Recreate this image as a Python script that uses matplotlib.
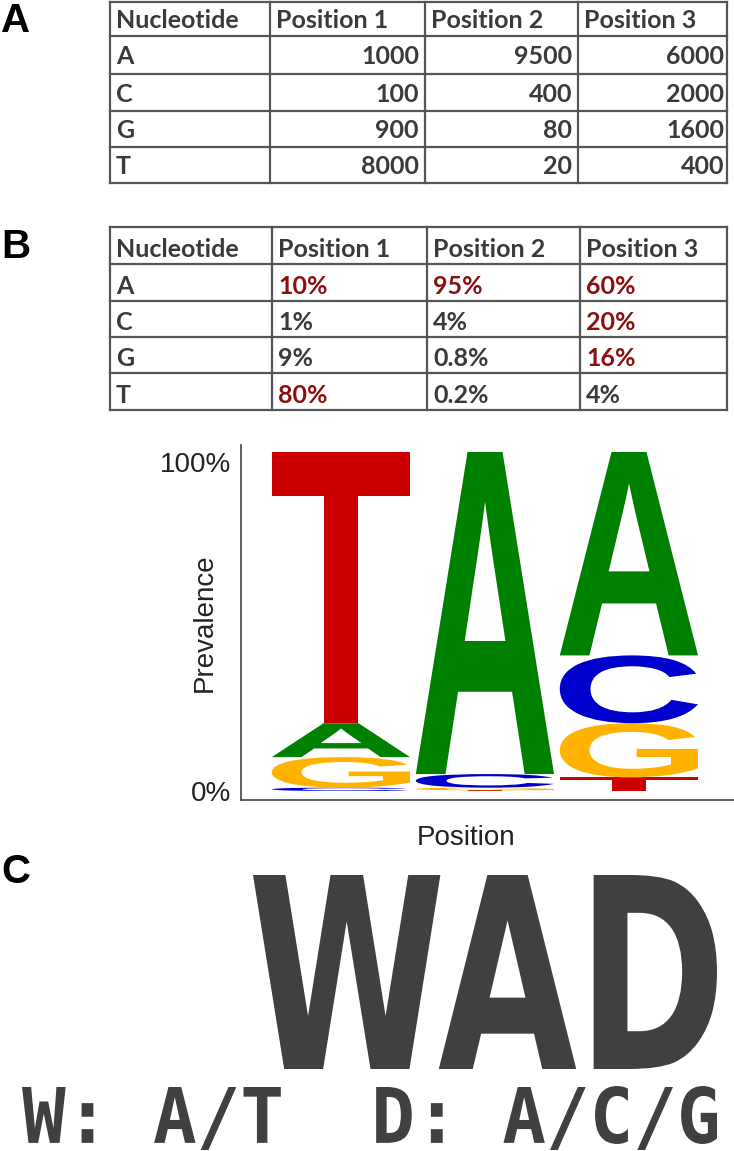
import matplotlib
matplotlib.use("Agg")
import matplotlib.pyplot as plt
from matplotlib.textpath import TextPath
from matplotlib.patches import PathPatch
from matplotlib.font_manager import FontProperties
from matplotlib.transforms import Affine2D

W, H = 734, 1151

# data
nucleotides = ["A", "C", "G", "T"]
headers = ["Nucleotide", "Position 1", "Position 2", "Position 3"]
count_A = [1000, 9500, 6000]
count_C = [100, 400, 2000]
count_G = [900, 80, 1600]
count_T = [8000, 20, 400]
positions = [1, 2, 3]
consensus = "WAD"
code_text = "W: A/T  D: A/C/G"

counts = [count_A, count_C, count_G, count_T]
totals = [sum(c[i] for c in counts) for i in range(3)]
pcts = [[c[i] / totals[i] * 100 for i in range(3)] for c in counts]

colors = {"A": "#008000", "C": "#0000CC", "G": "#FFB300", "T": "#CC0000"}
txt_col = "#3a3a3a"
red_col = "#8B1010"

plt.rcParams['font.family'] = ['Liberation Sans', 'DejaVu Sans']
fig = plt.figure(figsize=(W / 100, H / 100), dpi=100)

# overlay in pixel coordinates for tables and text panels
bg = fig.add_axes([0, 0, 1, 1])
bg.set_xlim(0, W)
bg.set_ylim(H, 0)
bg.axis("off")

tfont = dict(family=['Lato', 'DejaVu Sans'], weight='bold', fontsize=18)


def grid(xs, ys):
    for x in xs:
        bg.plot([x, x], [ys[0], ys[-1]], color="#555555", lw=1.6, solid_capstyle='projecting')
    for y in ys:
        bg.plot([xs[0], xs[-1]], [y, y], color="#555555", lw=1.6, solid_capstyle='projecting')


# table A: raw counts
xa = [110, 270, 425, 578, 727]
ya = [2, 36, 74, 111, 147, 183]
num_right = [419, 572, 724]
grid(xa, ya)
for j, h in enumerate(headers):
    bg.text(xa[j] + 6, (ya[0] + ya[1]) / 2 + 9, h, color=txt_col, va='baseline', ha='left', **tfont)
for r, nt in enumerate(nucleotides):
    yb = (ya[r + 1] + ya[r + 2]) / 2 + 9
    bg.text(xa[0] + 6, yb, nt, color=txt_col, va='baseline', ha='left', **tfont)
    for i in range(3):
        bg.text(num_right[i], yb, str(counts[r][i]), color=txt_col, va='baseline', ha='right', **tfont)

# table B: percentages
xb = [110, 272, 427, 580, 727]
yb_ = [227, 264, 301, 337, 373, 410]
grid(xb, yb_)
for j, h in enumerate(headers):
    bg.text(xb[j] + 6, (yb_[0] + yb_[1]) / 2 + 11, h, color=txt_col, va='baseline', ha='left', **tfont)
for r, nt in enumerate(nucleotides):
    yb = (yb_[r + 1] + yb_[r + 2]) / 2 + 11
    bg.text(xb[0] + 6, yb, nt, color=txt_col, va='baseline', ha='left', **tfont)
    for i in range(3):
        p = pcts[r][i]
        bg.text(xb[i + 1] + 6, yb, "{:g}%".format(round(p, 1)),
                color=red_col if p >= 10 else txt_col, va='baseline', ha='left', **tfont)

# panel letters
for lab, y in [("A", 32), ("B", 258), ("C", 883)]:
    bg.text(1, y, lab, fontsize=29, fontweight='bold', color='black', va='baseline', ha='left')


def fit_path(ax, s, prop, x0, x1, ybot, ytop, color):
    tp = TextPath((0, 0), s, size=1, prop=prop)
    e = tp.get_extents()
    sx = (x1 - x0) / e.width
    sy = (ytop - ybot) / e.height
    tr = Affine2D().translate(-e.x0, -e.y0).scale(sx, sy).translate(x0, ybot)
    ax.add_patch(PathPatch(tr.transform_path(tp), color=color, lw=0))


# logo
ax = fig.add_axes([241 / W, 1 - 800 / H, 1 - 241 / W, (800 - 445) / H])
ax.set_xlim(0.306, 3.73)
ax.set_ylim(-2.65, 102.06)
lfont = FontProperties(family='Liberation Sans', weight='bold')
width = 0.96
for i, pos in enumerate(positions):
    col = sorted([(pcts[r][i], nucleotides[r]) for r in range(4)])
    bottom = 0
    for h, nt in col:
        fit_path(ax, nt, lfont, pos - width / 2, pos + width / 2, bottom, bottom + h, colors[nt])
        bottom += h

for s in ["top", "right"]:
    ax.spines[s].set_visible(False)
for s in ["left", "bottom"]:
    ax.spines[s].set_color("#444444")
    ax.spines[s].set_linewidth(1.2)
ax.set_xticks([])
ax.set_yticks([0, 100])
ax.set_yticklabels(["0%", "100%"], fontsize=20, color='#222222')
ax.tick_params(axis='y', length=0, pad=7)
ax.get_yticklabels()[1].set_va('top')
ax.set_ylabel("Prevalence", fontsize=20, color='#222222', va='center')
ax.yaxis.set_label_coords((205 - 241) / 493, 0.5)
ax.set_xlabel("Position", fontsize=20, color='#222222', va='center')
ax.xaxis.set_label_coords((466 - 241) / 493, (800 - 838) / 355)

# consensus panel
dark = "#404040"
fit_path(bg, consensus, FontProperties(family='DejaVu Sans', weight='bold'), 253, 717, 1069, 875, dark)
fit_path(bg, code_text, FontProperties(family='DejaVu Sans Mono', weight='bold'), 22, 717, 1150, 1086, dark)

fig.savefig("out.png", dpi=100)
